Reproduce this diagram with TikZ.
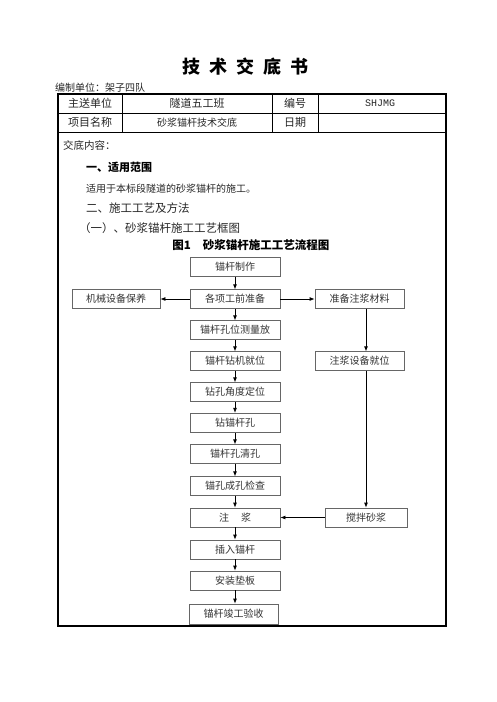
\documentclass[tikz,border=0pt]{standalone}
\usepackage{fontspec}
\setmainfont{Noto Sans CJK SC}
\newfontfamily\monof{Liberation Mono}
\usetikzlibrary{arrows.meta}
\begin{document}
\begin{tikzpicture}[x=1pt,y=-1pt,
  box/.style={draw=black!60, line width=0.8pt, minimum width=90pt, minimum height=18.5pt, inner sep=0pt, font=\fontsize{10}{12}\selectfont, text=black!80},
  arr/.style={-{Latex[length=5pt,width=4pt]}, line width=0.8pt},
  txt/.style={anchor=west, inner sep=0pt, text=black!85},
  cell/.style={inner sep=0pt, text=black!85, font=\fontsize{11}{13}\selectfont},
  tline/.style={line width=1.1pt},
]
\useasboundingbox (0,0) rectangle (496,702);

% title
\node[inner sep=0pt, font=\fontsize{18}{20}\selectfont\bfseries] (title) at (245,66.5)
  {技\hspace{9pt}术\hspace{9pt}交\hspace{9pt}底\hspace{9pt}书};
\node[txt, font=\fontsize{10}{12}\selectfont] (unit) at (55,88) {编制单位：架子四队};

% table
\draw[tline] (58,94) rectangle (446,626);
\draw[line width=0.9pt] (58,113) -- (446,113);
\draw[line width=0.9pt] (58,132) -- (446,132);
\draw[line width=0.9pt] (122,94) -- (122,132);
\draw[line width=0.9pt] (272,94) -- (272,132);
\draw[line width=0.9pt] (318,94) -- (318,132);

\node[cell] (c11) at (90,103.5) {主送单位};
\node[cell] (c12) at (197,103.5) {隧道五工班};
\node[cell] (c13) at (295,103.5) {编号};
\node[cell, font=\monof\fontsize{10}{12}\selectfont] (c14) at (380,103.5) {SHJMG};
\node[cell] (c21) at (90,122.5) {项目名称};
\node[cell, font=\fontsize{10}{12}\selectfont] (c22) at (197,122.5) {砂浆锚杆技术交底};
\node[cell] (c23) at (295,122.5) {日期};

% content text
\node[txt, font=\fontsize{10.5}{12}\selectfont] (t1) at (63,145) {交底内容：};
\node[txt, font=\fontsize{11}{13}\selectfont\bfseries, text=black] (t2) at (86,167) {一、适用范围};
\node[txt, font=\fontsize{10}{12}\selectfont] (t3) at (86,189) {适用于本标段隧道的砂浆锚杆的施工。};
\node[txt, font=\fontsize{11.5}{13}\selectfont] (t4) at (86,208) {二、施工工艺及方法};
\node[txt, font=\fontsize{11.5}{13}\selectfont] (t5) at (79,228) {（一）、砂浆锚杆施工工艺框图};
\node[inner sep=0pt, font=\fontsize{11.5}{13}\selectfont\bfseries] (fig) at (251,245) {图1\hspace{12pt}砂浆锚杆施工工艺流程图};

% flowchart main column
\node[box] (b1) at (235,267) {锚杆制作};
\node[box] (b2) at (235,299) {各项工前准备};
\node[box] (b3) at (235,330) {锚杆孔位测量放};
\node[box] (b4) at (235,361) {锚杆钻机就位};
\node[box] (b5) at (235,392) {钻孔角度定位};
\node[box, minimum height=19.5pt] (b6) at (235,423) {钻锚杆孔};
\node[box] (b7) at (235,454) {锚杆孔清孔};
\node[box] (b8) at (235,486) {锚孔成孔检查};
\node[box, minimum height=19pt] (b9) at (235,517.5) {注\hspace{12pt}浆};
\node[box, minimum height=19pt] (b10) at (235,549.5) {插入锚杆};
\node[box, minimum height=19pt] (b11) at (235,580.5) {安装垫板};
\node[box, minimum width=89pt, minimum height=20pt] (b12) at (233.5,614) {锚杆竣工验收};

% side boxes
\node[box, minimum width=88pt] (s1) at (116,299) {机械设备保养};
\node[box, minimum width=89pt] (s2) at (359.5,299) {准备注浆材料};
\node[box, minimum width=89pt] (s3) at (359.5,361) {注浆设备就位};
\node[box, minimum width=82pt, minimum height=19pt] (s4) at (366,517.5) {搅拌砂浆};

% arrows
\foreach \a/\b in {b1/b2,b2/b3,b3/b4,b4/b5,b5/b6,b6/b7,b7/b8,b8/b9,b9/b10,b10/b11,b11/b12}
  \draw[arr] (\a.south) -- (\b.north -| \a.south);
\draw[arr] (b2.west) -- (s1.east);
\draw[arr] (b2.east) -- (s2.west);
\draw[arr] (s2.south -| s4.north) -- (s3.north -| s4.north);
\draw[arr] (s3.south -| s4.north) -- (s4.north);
\draw[arr] (s4.west) -- (b9.east);
\end{tikzpicture}
\end{document}
